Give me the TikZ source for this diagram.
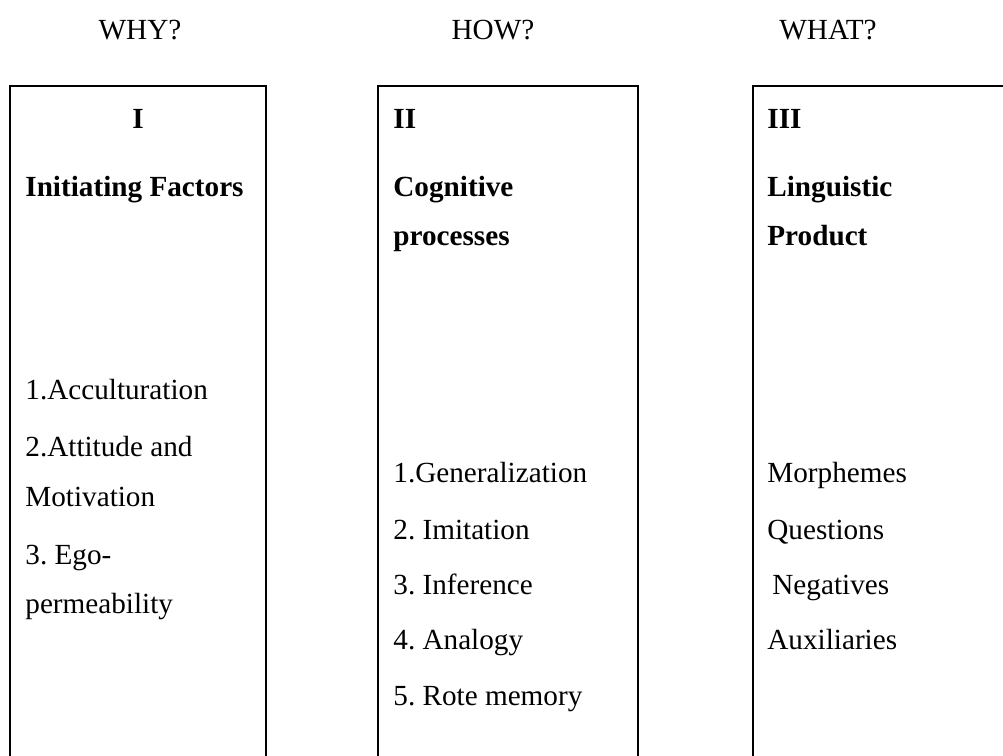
\documentclass[tikz,border=0pt]{standalone}
\usepackage{fontspec}
\setmainfont{Liberation Serif}
\frenchspacing
\begin{document}
\begin{tikzpicture}
    [
    x=0.5pt, y=-0.5pt,
    txt/.style={anchor=base west,inner sep=0pt,font=\fontsize{14.6}{17}\selectfont},
    head/.style={txt,font=\fontsize{14.6}{17}\selectfont\bfseries},
    question/.style={anchor=base,inner sep=0pt,font=\fontsize{14.6}{17}\selectfont},
    frame/.style={line width=1.2pt}
    ]
    \useasboundingbox (0,0) rectangle (1003,756);
    % column questions
    \node (why) at (140,39) [question] {WHY?};
    \node (how) at (493,39) [question] {HOW?};
    \node (what) at (828,39) [question] {WHAT?};
    % frames, open at the bottom
    \coordinate (f1a) at (10,756);
    \coordinate (f1b) at (266,756);
    \coordinate (f2a) at (378,756);
    \coordinate (f2b) at (638,756);
    \coordinate (f3a) at (753,756);
    \coordinate (f3b) at (1003,86);
    \draw [frame] (f1a) |- (266,86) -- (f1b);
    \draw [frame] (f2a) |- (638,86) -- (f2b);
    \draw [frame] (f3a) |- (f3b);
    % I
    \node (n1) at (138,128) [question,font=\fontsize{14.6}{17}\selectfont\bfseries] {I};
    \node (h1) at (25,196) [head] {Initiating Factors};
    \node (i11) at (25,399) [txt] {1.Acculturation};
    \node (i12) at (25,456) [txt] {2.Attitude and};
    \node (i13) at (25,506) [txt] {Motivation};
    \node (i14) at (25,564) [txt] {3. Ego-};
    \node (i15) at (25,613) [txt] {permeability};
    % II
    \node (n2) at (393,128) [head] {II};
    \node (h2a) at (393,196) [head] {Cognitive};
    \node (h2b) at (393,245) [head] {processes};
    \node (i21) at (393,482) [txt] {1.Generalization};
    \node (i22) at (393,539) [txt] {2. Imitation};
    \node (i23) at (393,594) [txt] {3. Inference};
    \node (i24) at (393,649) [txt] {4. Analogy};
    \node (i25) at (393,705) [txt] {5. Rote memory};
    % III
    \node (n3) at (767,128) [head] {III};
    \node (h3a) at (767,196) [head] {Linguistic};
    \node (h3b) at (767,245) [head] {Product};
    \node (i31) at (767,482) [txt] {Morphemes};
    \node (i32) at (767,539) [txt] {Questions};
    \node (i33) at (772,594) [txt] {Negatives};
    \node (i34) at (767,649) [txt] {Auxiliaries};
\end{tikzpicture}
\end{document}
